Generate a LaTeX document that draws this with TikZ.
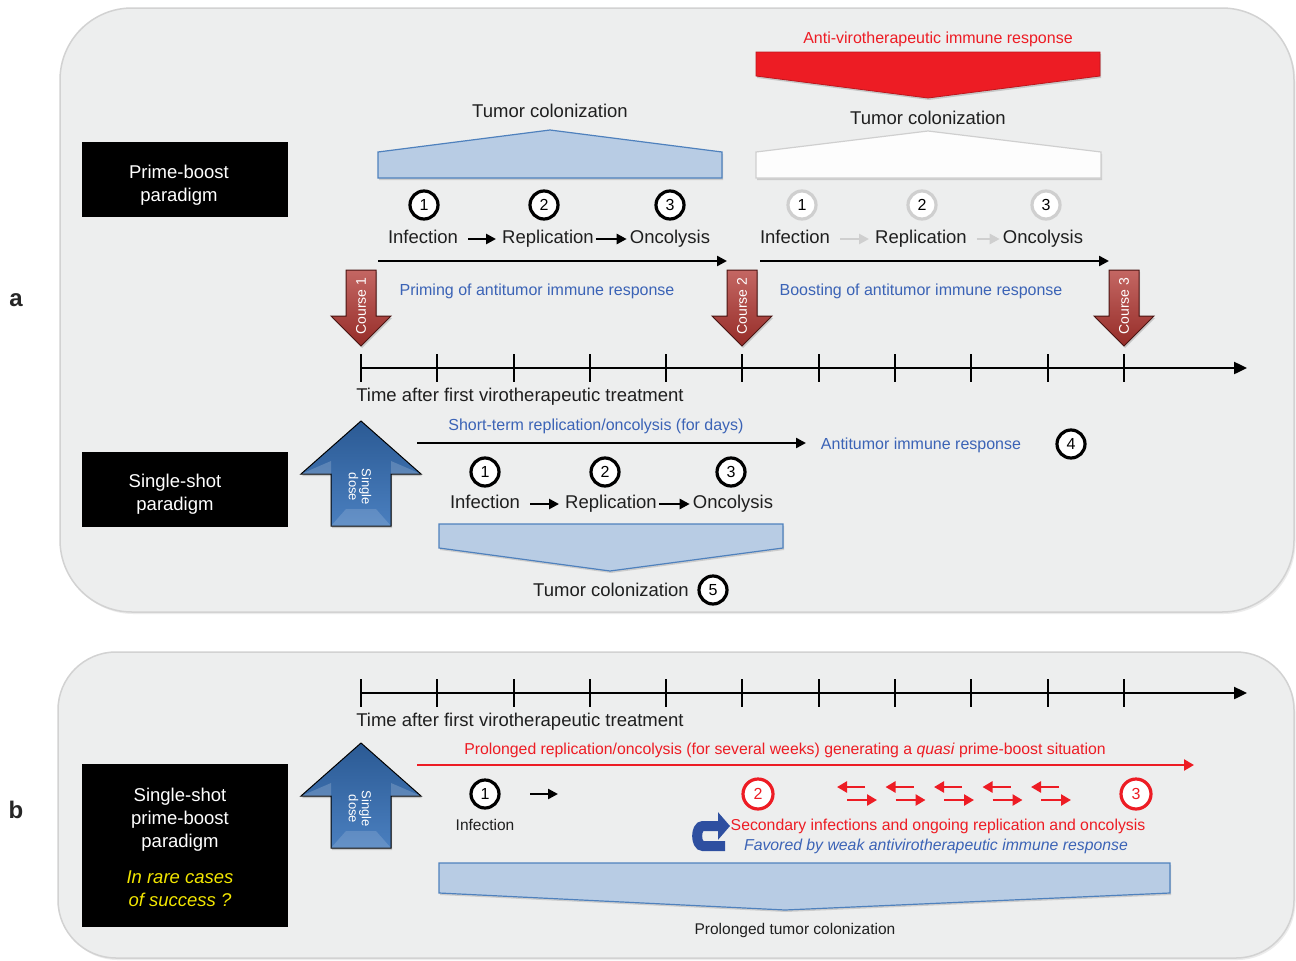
\documentclass[tikz,border=0pt]{standalone}
\usepackage{fontspec}
\setmainfont{Liberation Sans}
\usetikzlibrary{arrows.meta,shadows}
\newcommand\fsz[2]{\fontsize{#1}{#2}\selectfont}
\definecolor{panelfill}{HTML}{EDEEEE}
\definecolor{panelline}{HTML}{D2D2D2}
\definecolor{shapefill}{HTML}{B8CCE4}
\definecolor{shapeline}{HTML}{4F81BD}
\definecolor{bluetext}{HTML}{3B63B6}
\definecolor{redtext}{HTML}{ED1C24}
\definecolor{coursered}{HTML}{B0342F}
\definecolor{coursedark}{HTML}{4A1412}
\definecolor{dosetop}{HTML}{2B5A94}
\definecolor{dosebot}{HTML}{4A7FBF}
\definecolor{greyline}{HTML}{CFCFCF}
\definecolor{hookblue}{HTML}{2E4FA0}
\definecolor{yel}{HTML}{F2E600}
\newcommand\coursearrow[3]{%
  \path[draw=coursedark, line width=1, top color=coursered!75!white, bottom color=coursered!85!black, drop shadow={shadow xshift=1pt, shadow yshift=-2pt, opacity=0.35}]
    (#1-15,270) -- (#1+15,270) -- (#1+15,316) -- (#1+30,316) -- (#1,346) -- (#1-30,316) -- (#1-15,316) -- cycle;
  \node[coursetext] (#2) at (#1,306) {#3};}
\newcommand\dosearrow[2]{%
  \path[draw=black, line width=1, top color=dosetop, bottom color=dosebot, drop shadow={shadow xshift=1pt, shadow yshift=-2pt, opacity=0.35}]
    (361,#1) -- (421,#1+53) -- (391,#1+53) -- (391,#1+105) -- (331,#1+105) -- (331,#1+53) -- (301,#1+53) -- cycle;
  \fill[white, opacity=0.18] (301,#1+53) -- (331,#1+53) -- (331,#1+40) -- cycle;
  \fill[white, opacity=0.18] (421,#1+53) -- (391,#1+53) -- (391,#1+40) -- cycle;
  \fill[white, opacity=0.15] (331,#1+105) -- (391,#1+105) -- (376,#1+88) -- (346,#1+88) -- cycle;
  \node[dosetext] (#2) at (360,#1+66) {Single\\dose};}
\begin{document}
\begin{tikzpicture}[x=1pt,y=-1pt,
  txt/.style={inner sep=1pt, text=black!88, font=\fsz{18.5}{22}, text height=13.5pt, text depth=4pt, yshift=-2pt},
  smalltxt/.style={inner sep=1pt, text=black!88, font=\fsz{15.5}{18}, text height=11.5pt, text depth=3.4pt, yshift=-1.5pt},
  bluelbl/.style={inner sep=1pt, text=bluetext, font=\fsz{16}{19}, text height=11.8pt, text depth=3.5pt, yshift=-1.5pt},
  redlbl/.style={inner sep=1pt, text=redtext, font=\fsz{15.8}{19}, text height=11.6pt, text depth=3.5pt, yshift=-1.5pt},
  greytxt/.style={txt},
  blackbox/.style={fill=black, minimum width=206, minimum height=75, inner sep=0},
  boxtext/.style={text=white, align=center, inner sep=0, font=\fsz{18.5}{23}},
  numcirc/.style={circle, draw=black, line width=3.2, fill=white, minimum size=28, inner sep=0, font=\fsz{16}{16}},
  graycirc/.style={circle, draw=greyline, line width=3.2, fill=white, minimum size=28, inner sep=0, font=\fsz{16}{16}},
  redcirc/.style={circle, draw=redtext, line width=3.2, fill=white, text=redtext, minimum size=30, inner sep=0, font=\fsz{16}{16}},
  coursetext/.style={rotate=90, text=white, inner sep=0, font=\fsz{14}{16}},
  dosetext/.style={rotate=-90, text=white, align=center, inner sep=0, font=\fsz{13}{12}},
  blkarrow/.style={line width=2.4, -{Triangle[length=10pt,width=10pt]}},
  gryarrow/.style={line width=2.4, draw=greyline, -{Triangle[length=10pt,width=10pt]}},
  redarrow/.style={line width=2.8, draw=redtext, -{Triangle[length=10pt,width=11pt]}},
  shapestyle/.style={fill=shapefill, draw=shapeline, line width=1.2, drop shadow={shadow xshift=1pt, shadow yshift=-2pt, opacity=0.3}},
  panel/.style={fill=panelfill, draw=panelline, line width=1.5, drop shadow={shadow xshift=1.5pt, shadow yshift=-2pt, opacity=0.15}},
  tick/.style={line width=2.4}
]
\useasboundingbox (0,0) rectangle (1296,961);
\fill[white] (0,0) rectangle (1296,961);

% panels
\path[panel, rounded corners=72] (60,8) rectangle (1294,612);
\path[panel, rounded corners=58] (58,652) rectangle (1294,958);

\node[font=\bfseries\fsz{24}{28}, text=black!85] (la) at (16,300) {a};
\node[font=\bfseries\fsz{24}{28}, text=black!85] (lb) at (16,810) {b};

% black boxes
\node[blackbox] (pb) at (185,179.5) {};
\node[boxtext] (pbt) at (179,185) {Prime-boost\\paradigm};
\node[blackbox] (ss) at (185,489) {};
\node[boxtext] (sst) at (175,494) {Single-shot\\paradigm};
\node[blackbox, minimum height=163] (ssb) at (185,845.5) {};
\node[boxtext] (ssbt) at (180,847) {Single-shot\\prime-boost\\paradigm\\[13pt]\textcolor{yel}{\itshape In rare cases}\\\textcolor{yel}{\itshape of success ?}};

% ===== panel a timeline
\coordinate (ta0) at (361,368);
\coordinate (ta1) at (1247,368);
\draw[line width=2.4, -{Triangle[length=13pt,width=12pt]}] (ta0) -- (ta1);
\foreach \x in {361,437,514,590,666,742,819,895,971,1048,1124}
  \draw[tick] (\x,354) -- (\x,382);
\node[txt] (timea) at (520,395) {Time after first virotherapeutic treatment};

\coursearrow{361}{co1}{Course 1}
\coursearrow{742}{co2}{Course 2}
\coursearrow{1124}{co3}{Course 3}

% prime group
\node[txt] (tc1) at (550,111) {Tumor colonization};
\path[shapestyle] (378,178) -- (378,152) -- (550,130) -- (722,152) -- (722,178) -- cycle;
\node[numcirc] (c1a) at (424,205) {1};
\node[numcirc] (c2a) at (544,205) {2};
\node[numcirc] (c3a) at (670,205) {3};
\node[txt] (inf1) at (423,237) {Infection};
\node[txt] (rep1) at (548,237) {Replication};
\node[txt] (onc1) at (670,237) {Oncolysis};
\draw[blkarrow, shorten <=9pt, shorten >=5pt] (inf1) -- (rep1);
\draw[blkarrow, shorten <=1pt, shorten >=2pt] (rep1) -- (onc1);
\coordinate (pa0) at (378,261);
\coordinate (pa1) at (727,261);
\draw[blkarrow] (pa0) -- (pa1);
\node[bluelbl] (prim) at (537,290) {Priming of antitumor immune response};

% boost group
\node[redlbl, font=\fsz{16}{19}] (anti) at (938,38) {Anti-virotherapeutic immune response};
\path[fill=redtext, draw=redtext!80!black, line width=0.8, drop shadow={shadow xshift=1pt, shadow yshift=-2pt, opacity=0.35}] (756,52) -- (1100,52) -- (1100,76) -- (928,98) -- (756,76) -- cycle;
\node[txt] (tc2) at (928,118) {Tumor colonization};
\path[fill=white!90!panelfill, draw=greyline, line width=1.2, drop shadow={shadow xshift=1pt, shadow yshift=-2pt, opacity=0.3}] (756,178) -- (756,152) -- (928,131) -- (1101,152) -- (1101,178) -- cycle;
\node[graycirc] (c1g) at (802,205) {1};
\node[graycirc] (c2g) at (922,205) {2};
\node[graycirc] (c3g) at (1046,205) {3};
\node[greytxt] (inf2) at (795,237) {Infection};
\node[greytxt] (rep2) at (921,237) {Replication};
\node[greytxt] (onc2) at (1043,237) {Oncolysis};
\draw[gryarrow, shorten <=9pt, shorten >=5pt] (inf2) -- (rep2);
\draw[gryarrow, shorten <=9pt, shorten >=2pt] (rep2) -- (onc2);
\coordinate (ba0) at (760,261);
\coordinate (ba1) at (1109,261);
\draw[blkarrow] (ba0) -- (ba1);
\node[bluelbl] (boost) at (921,290) {Boosting of antitumor immune response};

% single-shot group
\dosearrow{421}{dosea}
\node[bluelbl] (short) at (596,425) {Short-term replication/oncolysis (for days)};
\coordinate (sa0) at (417,443);
\coordinate (sa1) at (806,443);
\draw[blkarrow] (sa0) -- (sa1);
\node[bluelbl] (antit) at (921,444) {Antitumor immune response};
\node[numcirc] (c4) at (1071,444) {4};
\node[numcirc] (c1b) at (485,472) {1};
\node[numcirc] (c2b) at (605,472) {2};
\node[numcirc] (c3b) at (731,472) {3};
\node[txt] (inf3) at (485,502) {Infection};
\node[txt] (rep3) at (611,502) {Replication};
\node[txt] (onc3) at (733,502) {Oncolysis};
\draw[blkarrow, shorten <=9pt, shorten >=5pt] (inf3) -- (rep3);
\draw[blkarrow, shorten <=1pt, shorten >=2pt] (rep3) -- (onc3);
\path[shapestyle] (439,524) -- (783,524) -- (783,548) -- (610,571) -- (439,548) -- cycle;
\node[txt] (tc3) at (611,590) {Tumor colonization};
\node[numcirc] (c5) at (713,590) {5};

% ===== panel b
\coordinate (tb0) at (361,693);
\coordinate (tb1) at (1247,693);
\draw[line width=2.4, -{Triangle[length=13pt,width=12pt]}] (tb0) -- (tb1);
\foreach \x in {361,437,514,590,666,742,819,895,971,1048,1124}
  \draw[tick] (\x,679) -- (\x,707);
\node[txt] (timeb) at (520,720) {Time after first virotherapeutic treatment};

\dosearrow{743}{doseb}
\node[redlbl] (prol) at (785,749) {Prolonged replication/oncolysis (for several weeks) generating a \textit{quasi} prime-boost situation};
\coordinate (ra0) at (417,765);
\coordinate (ra1) at (1194,765);
\draw[redarrow, line width=2.4] (ra0) -- (ra1);
\node[numcirc] (c1c) at (485,794) {1};
\coordinate (ib0) at (530,794);
\coordinate (ib1) at (558,794);
\draw[blkarrow] (ib0) -- (ib1);
\node[smalltxt] (inf4) at (485,825) {Infection};
\node[redcirc] (c2r) at (758,794) {2};
\node[redcirc] (c3r) at (1136,794) {3};
\foreach \i/\x in {1/837,2/885.5,3/934,4/982.5,5/1031} {
  \coordinate (l\i a) at (\x+28,787);
  \coordinate (l\i b) at (\x,787);
  \coordinate (r\i a) at (\x+10,800);
  \coordinate (r\i b) at (\x+40,800);
  \draw[redarrow] (l\i a) -- (l\i b);
  \draw[redarrow] (r\i a) -- (r\i b);
}
\coordinate (hk0) at (725,846);
\coordinate (hk1) at (703,846);
\coordinate (hk2) at (703,826);
\coordinate (hk3) at (730,826);
\draw[hookblue, line width=10, -{Triangle[length=12pt,width=27pt]}] (hk0) -- (hk1) to[out=180,in=180] (hk2) -- (hk3);
\node[redlbl] (sec) at (938,825) {Secondary infections and ongoing replication and oncolysis};
\node[bluelbl, font=\itshape\fsz{15.8}{19}] (fav) at (936,845) {Favored by weak antivirotherapeutic immune response};
\path[shapestyle] (439,863) -- (1170,863) -- (1170,893) -- (785,910) -- (439,893) -- cycle;
\node[smalltxt] (ptc) at (795,929) {Prolonged tumor colonization};
\end{tikzpicture}
\end{document}
